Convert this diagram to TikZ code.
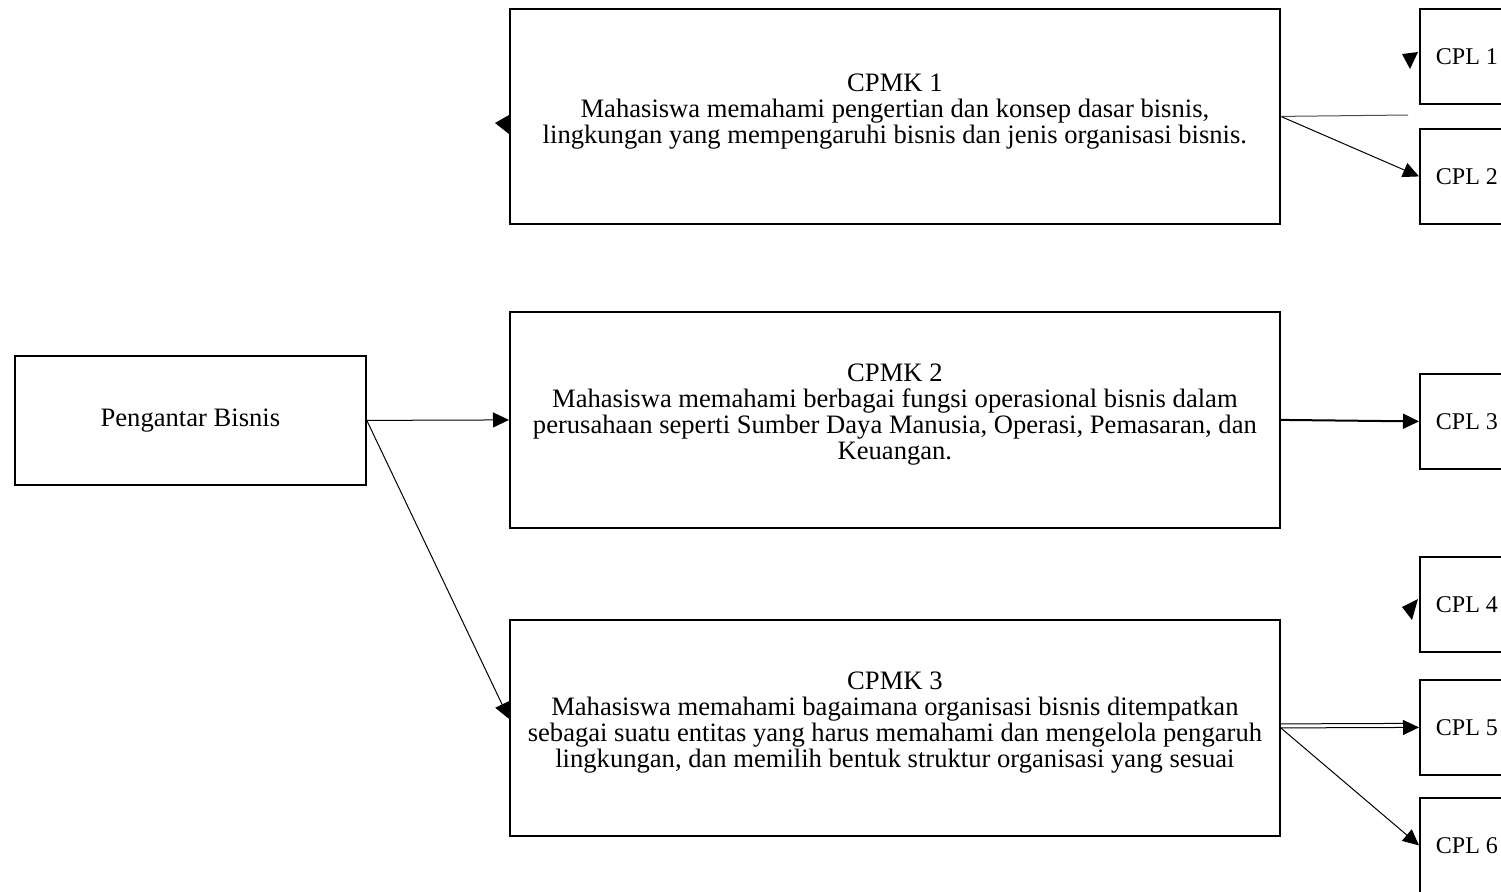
\documentclass[tikz,border=0pt]{standalone}
\usepackage{fontspec}
\setmainfont{Liberation Serif}
\usetikzlibrary{arrows.meta}
\tikzset{
>={Triangle[length=8pt,width=7.5pt]},
kotak/.style={draw,line width=0.9pt,inner sep=0pt,align=flush center,anchor=north west},
teks/.style={text width=380pt,execute at end node={\par\vspace{5pt}}},
cpl/.style={draw,line width=0.9pt,anchor=north west,minimum height=47.5pt,text width=49pt,inner xsep=8pt,inner ysep=0pt,align=flush left,font=\fontsize{12}{13}\selectfont},
panah/.style={->,line width=0.5pt},
ujung/.style={fill=black}}

\begin{document}
\begin{tikzpicture}[x=0.5pt,y=-0.5pt,font=\fontsize{13.3}{13}\selectfont]
\useasboundingbox (0,0) rectangle (1501,891);

\node[kotak,minimum width=175.5pt,minimum height=64.5pt] (pb) at (14,355) {Pengantar Bisnis};

\node[kotak,teks,minimum width=385pt,minimum height=107.5pt] (k1) at (509,8) {CPMK 1\\Mahasiswa memahami pengertian dan konsep dasar bisnis,\\lingkungan yang mempengaruhi bisnis dan jenis organisasi bisnis.};
\node[kotak,teks,minimum width=385pt,minimum height=108pt] (k2) at (509,311) {CPMK 2\\Mahasiswa memahami berbagai fungsi operasional bisnis dalam\\perusahaan seperti Sumber Daya Manusia, Operasi, Pemasaran, dan\\Keuangan.};
\node[kotak,teks,minimum width=385pt,minimum height=108pt] (k3) at (509,619) {CPMK 3\\Mahasiswa memahami bagaimana organisasi bisnis ditempatkan\\sebagai suatu entitas yang harus memahami dan mengelola pengaruh\\lingkungan, dan memilih bentuk struktur organisasi yang sesuai};

\node[cpl] (l1) at (1419,8) {CPL 1};
\node[cpl] (l2) at (1419,128) {CPL 2};
\node[cpl] (l3) at (1419,373) {CPL 3};
\node[cpl] (l4) at (1419,556) {CPL 4};
\node[cpl] (l5) at (1419,679) {CPL 5};
\node[cpl] (l6) at (1419,797) {CPL 6};

\coordinate (sisa) at (1408,115);

\draw[panah] (pb.east) -- (k2.west);
\draw[panah] (pb.east) -- ([yshift=4.5pt]k3.west);
\draw[panah] (k1.east) -- (l2.west);
\draw[black!70,line width=0.5pt] (k1.east) -- (sisa);
\draw[panah,line width=1pt] (k2.east) -- (l3.west);
\draw[panah] (k3.east) -- (l5.west);
\draw[line width=0.5pt] ([yshift=2pt]k3.east) -- ([yshift=2pt,xshift=-7pt]l5.west);
\draw[panah] (k3.east) -- (l6.west);

% ujung panah yang tertinggal
\fill[ujung] (495,123) -- (509,115) -- (509,134) -- cycle;
\fill[ujung] (1402,54) -- (1418,52) -- (1410,69) -- cycle;
\fill[ujung] (1402,607) -- (1418,599) -- (1412,620) -- cycle;

\end{tikzpicture}
\end{document}
